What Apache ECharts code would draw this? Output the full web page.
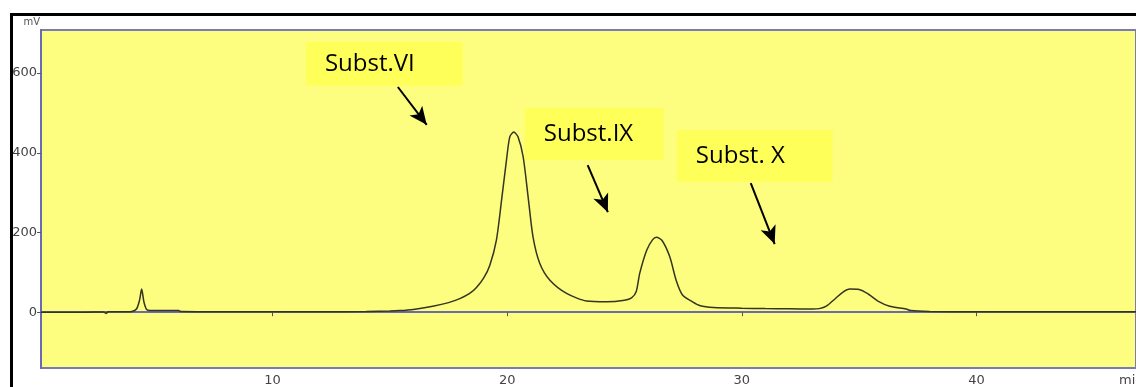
<!DOCTYPE html>
<html>
<head>
<meta charset="utf-8">
<script src="https://cdn.jsdelivr.net/npm/echarts@6/dist/echarts.min.js"></script>
<style>
html,body{margin:0;padding:0;background:#fff;}
#c{width:1136px;height:387px;}
</style>
</head>
<body>
<div id="c"></div>
<script>
// Retention time (min) and detector signal (mV)
const timeMin = [0.13, 1.0, 2.0, 2.8, 2.9, 3.0, 3.5, 4.0, 4.2, 4.33, 4.42, 4.52, 4.65, 5.0, 6.0, 6.1, 8.0, 10.0, 12.0, 14.0, 15.0, 15.42, 16.0, 16.83, 17.5, 17.98, 18.4, 18.69, 19.0, 19.26, 19.54, 19.76, 19.97, 20.11, 20.28, 20.46, 20.68, 20.89, 21.10, 21.39, 21.82, 22.53, 23.38, 24.24, 25.0, 25.3, 25.5, 25.65, 25.95, 26.2, 26.36, 26.6, 26.93, 27.2, 27.47, 27.9, 28.2, 28.8, 30.0, 31.0, 32.0, 33.0, 33.3, 33.6, 34.0, 34.3, 34.6, 35.0, 35.4, 35.8, 36.3, 37.0, 37.2, 38.0, 40.0, 43.0, 46.8];
const signalMV = [0, 0, 0, 0.5, -3, 1, 1, 2, 8, 30, 58, 25, 6, 4, 4, 1.5, 1, 1, 1, 2, 3, 4, 7, 15, 24, 34, 47, 62, 86, 118, 181, 281, 382, 440, 452, 440, 390, 290, 189, 122, 80, 47, 28, 26, 30, 36, 52, 98, 156, 182, 188, 180, 139, 80, 43, 26, 17, 12, 10, 9, 8.5, 8, 9, 15, 35, 50, 58, 57, 45, 28, 15, 8, 4, 2, 1, 1, 1];

const xTicks = [10, 20, 30, 40];
const yTicks = [0, 200, 400, 600];

// Annotations (data units)
const annLabels = ['Subst.VI', 'Subst.IX', 'Subst. X'];
const annBoxX = [[11.42, 18.11], [20.75, 26.67], [27.23, 33.87]];
const annBoxY = [[678, 568], [512, 382], [457, 327]];
const annArrowFrom = [[15.34, 565], [23.43, 369], [30.38, 324]];
const annArrowTo = [[16.57, 470], [24.29, 251], [31.40, 171]];

const data = timeMin.map((t, i) => [t, signalMV[i]]);

const chart = echarts.init(document.getElementById('c'), null, {renderer: 'canvas'});
const axisFont = {fontFamily: 'DejaVu Sans', fontSize: 13, color: '#444'};

chart.setOption({
  animation: false,
  backgroundColor: '#ffffff',
  grid: {
    left: 41, top: 30, right: 0, bottom: 19,
    show: true, backgroundColor: '#fdfd80', borderColor: '#7a7ab8', borderWidth: 2
  },
  xAxis: {
    type: 'value', min: 0.13, max: 46.8,
    axisLine: {show: true, lineStyle: {color: '#6a6ab0', width: 2}},
    axisTick: {show: true, customValues: xTicks, length: 4, lineStyle: {color: '#555'}},
    axisLabel: Object.assign({customValues: xTicks, margin: 6}, axisFont),
    splitLine: {show: false}
  },
  yAxis: {
    type: 'value', min: -140, max: 708,
    name: 'mV', nameLocation: 'end', nameGap: 3,
    nameTextStyle: {fontFamily: 'DejaVu Sans', fontSize: 10, color: '#555', align: 'right', verticalAlign: 'bottom', padding: [0, 1, 0, 0]},
    axisLine: {show: true, lineStyle: {color: '#6a6ab0', width: 2}},
    axisTick: {show: true, customValues: yTicks, length: 4, lineStyle: {color: '#555'}},
    axisLabel: Object.assign({customValues: yTicks, margin: 4}, axisFont),
    splitLine: {show: false}
  },
  series: [{
    type: 'line',
    data: data,
    showSymbol: false,
    smooth: 0.25,
    lineStyle: {color: '#34341f', width: 1.5},
    markArea: {
      silent: true,
      itemStyle: {color: '#ffff5a'},
      label: {show: true, position: 'insideLeft', distance: 19, fontFamily: 'Open Sans', fontSize: 24, color: '#000'},
      data: annLabels.map((lab, i) => [
        {name: lab, coord: [annBoxX[i][0], annBoxY[i][0]]},
        {coord: [annBoxX[i][1], annBoxY[i][1]]}
      ])
    },
    markLine: {
      silent: true,
      animation: false,
      symbol: ['none', 'arrow'],
      symbolSize: [12, 18],
      label: {show: false},
      lineStyle: {color: '#000', width: 2, type: 'solid'},
      data: annArrowFrom.map((p, i) => [
        {coord: p, symbol: 'none'},
        {coord: annArrowTo[i], symbol: 'arrow'}
      ])
    }
  }],
  graphic: [
    {type: 'rect', left: 10, top: 13, shape: {width: 1126, height: 3}, style: {fill: '#000'}},
    {type: 'rect', left: 10, top: 13, shape: {width: 3, height: 374}, style: {fill: '#000'}},
    {type: 'text', left: 1119, top: 374, style: {text: 'min', font: '13px "DejaVu Sans"', fill: '#444'}}
  ]
});
</script>
</body>
</html>
